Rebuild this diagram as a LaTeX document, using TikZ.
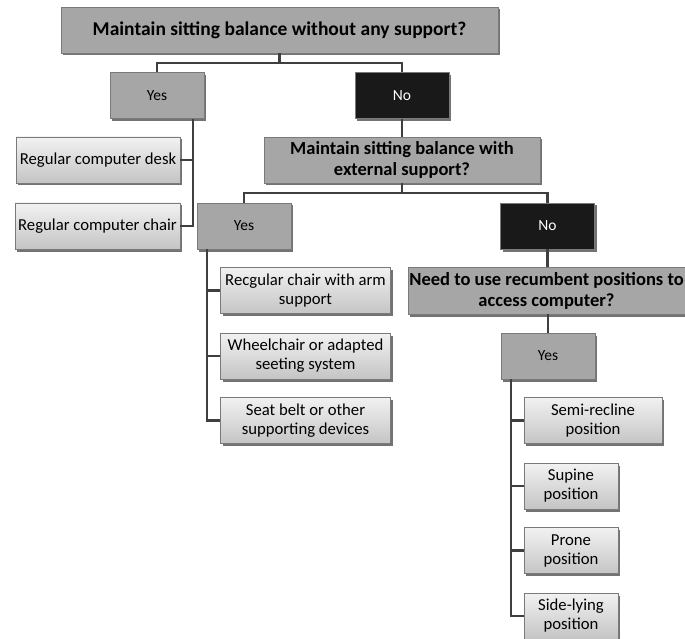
\documentclass[tikz,border=0pt]{standalone}
\usepackage{fontspec}
\setmainfont{Carlito}
\usetikzlibrary{shadows}
\definecolor{boxgray}{HTML}{A6A6A6}
\definecolor{edgegray}{HTML}{7A7A7A}
\definecolor{leaftop}{HTML}{F2F2F2}
\definecolor{leafbottom}{HTML}{C4C4C4}
\definecolor{linkgray}{HTML}{3F3F3F}

\begin{document}
\begin{tikzpicture}[x=1pt, y=-1pt,
  box/.style={draw=edgegray, line width=0.6pt, inner sep=0pt, align=center,
    drop shadow={shadow xshift=2pt, shadow yshift=-2.5pt, fill=black, opacity=0.55}},
  question/.style={box, fill=boxgray, font=\fontsize{18.5}{21}\selectfont\bfseries},
  yesbox/.style={box, fill=boxgray, minimum width=94pt, minimum height=46pt, font=\fontsize{15.5}{18}\selectfont},
  nobox/.style={yesbox, fill=black!90, text=white},
  leaf/.style={box, top color=leaftop, bottom color=leafbottom, minimum height=46pt, font=\fontsize{16.7}{19}\selectfont},
  link/.style={draw=linkgray, line width=2.4pt}]
  \useasboundingbox (0,0) rectangle (685,639);

  % first question
  \node[question, minimum width=437pt, minimum height=46pt, font=\fontsize{19.5}{21}\selectfont\bfseries] (q1) at (279.5,30) {Maintain sitting balance without any support?};
  \node[yesbox] (yes1) at (157,95.5) {Yes};
  \node[nobox] (no1) at (402,95.5) {No};
  \node[leaf, minimum width=164pt] (desk) at (98,160) {Regular computer desk};
  \node[leaf, minimum width=165pt] (chair) at (97.5,226) {Regular computer chair};

  % second question
  \node[question, minimum width=276pt, minimum height=46pt] (q2) at (402,160) {Maintain sitting balance with\\external support?};
  \node[yesbox] (yes2) at (244,226) {Yes};
  \node[nobox] (no2) at (547.5,226) {No};
  \node[leaf, minimum width=170pt] (arm) at (305.5,290.5) {Recgular chair with arm\\support};
  \node[leaf, minimum width=170pt] (wheel) at (305.5,356) {Wheelchair or adapted\\seeting system};
  \node[leaf, minimum width=170pt] (belt) at (305.5,420.5) {Seat belt or other\\supporting devices};

  % third question
  \node[question, minimum width=277pt, minimum height=47pt] (q3) at (546.5,290.5) {Need to use recumbent positions to\\access computer?};
  \node[yesbox] (yes3) at (548,356) {Yes};
  \node[leaf, minimum width=138pt] (semi) at (593,420.5) {Semi-recline\\position};
  \node[leaf, minimum width=94pt] (supine) at (571,486) {Supine\\position};
  \node[leaf, minimum width=94pt] (prone) at (571,550.5) {Prone\\position};
  \node[leaf, minimum width=94pt] (side) at (571,616) {Side-lying\\position};

  % connectors
  \draw[link] (q1.south) -- ++(0,10) -| (yes1.north);
  \draw[link] (q1.south) -- ++(0,10) -| (no1.north);
  \draw[link] (no1.south) -- (no1.south |- q2.north);
  \draw[link] ([xshift=36pt]yes1.south) |- (chair.east);
  \draw[link] (desk.east) -| ([xshift=36pt]yes1.south);

  \draw[link] (q2.south) -- ++(0,10) -| (yes2.north);
  \draw[link] (q2.south) -- ++(0,10) -| (no2.north);
  \draw[link] (no2.south) -- (no2.south |- q3.north);
  \draw[link] ([xshift=-37pt]yes2.south) |- (belt.west);
  \foreach \n in {arm,wheel}
    \draw[link] (\n.west) -| ([xshift=-37pt]yes2.south);

  \draw[link] (yes3.north |- q3.south) -- (yes3.north);
  \draw[link] ([xshift=-37pt]yes3.south) |- (side.west);
  \foreach \n in {semi,supine,prone}
    \draw[link] (\n.west) -| ([xshift=-37pt]yes3.south);
\end{tikzpicture}
\end{document}
